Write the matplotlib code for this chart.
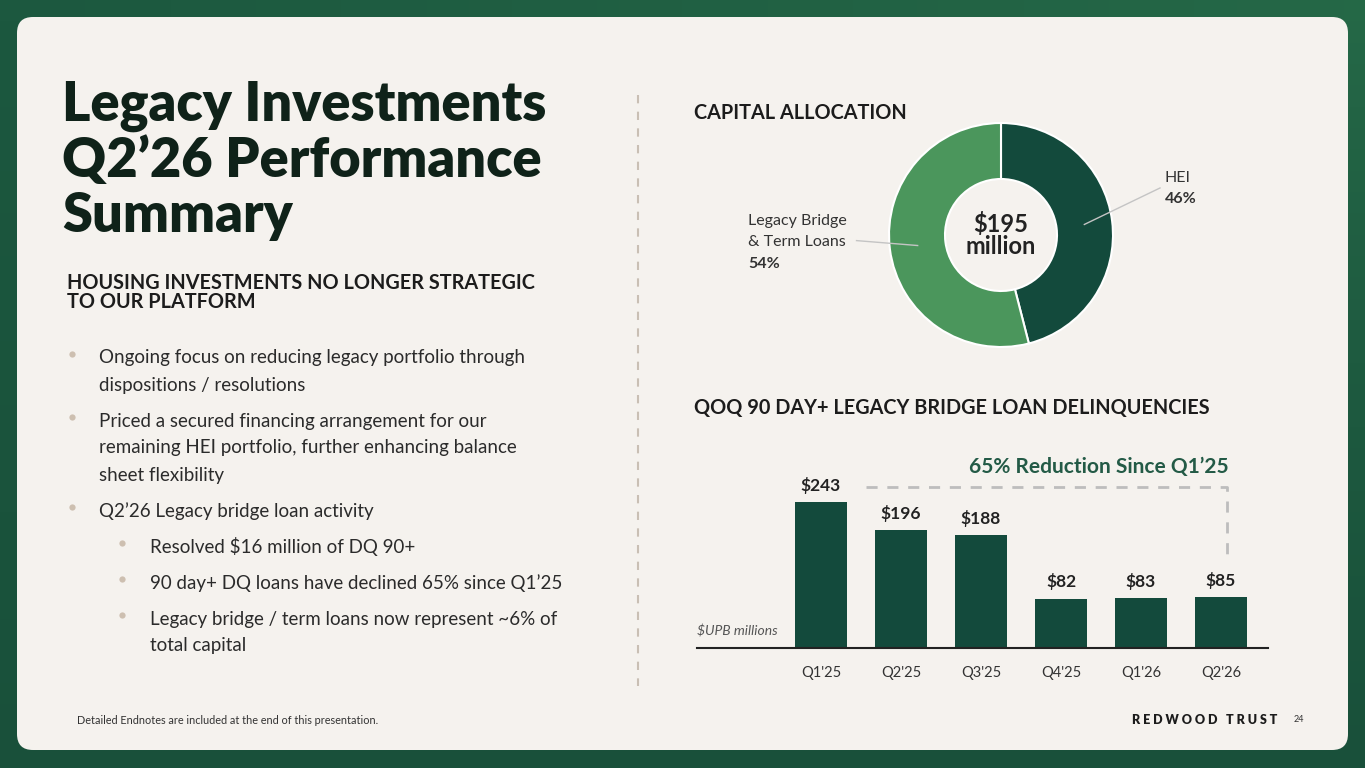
import numpy as np
import matplotlib
matplotlib.use("Agg")
import matplotlib.pyplot as plt
from matplotlib.patches import FancyBboxPatch

# Data
alloc_labels = ["HEI", "Legacy Bridge\n& Term Loans"]
alloc_pct = [46, 54]
alloc_total = "$195\nmillion"

quarters = ["Q1'25", "Q2'25", "Q3'25", "Q4'25", "Q1'26", "Q2'26"]
dq_values = [243, 196, 188, 82, 83, 85]

title_lines = ["Legacy Investments", "Q2\u201926 Performance", "Summary"]
subhead_lines = ["HOUSING INVESTMENTS NO LONGER STRATEGIC", "TO OUR PLATFORM"]
bullets = [
    (0, ["Ongoing focus on reducing legacy portfolio through", "dispositions / resolutions"]),
    (0, ["Priced a secured financing arrangement for our",
         "remaining HEI portfolio, further enhancing balance", "sheet flexibility"]),
    (0, ["Q2\u201926 Legacy bridge loan activity"]),
    (1, ["Resolved $16 million of DQ 90+"]),
    (1, ["90 day+ DQ loans have declined 65% since Q1\u201925"]),
    (1, ["Legacy bridge / term loans now represent ~6% of", "total capital"]),
]

W, H = 1365, 768
DARK = "#134a3c"
LIGHT = "#4b965c"
CARD = "#f5f2ee"
TXT = "#1c1c1c"
BODY = "#2b2b2b"

plt.rcParams["font.family"] = ["Lato", "DejaVu Sans"]

fig = plt.figure(figsize=(W / 100, H / 100), dpi=100)


def px_axes(left, top, right, bottom):
    return fig.add_axes([left / W, 1 - bottom / H, (right - left) / W, (bottom - top) / H])


# background with green gradient and rounded card
bg = fig.add_axes([0, 0, 1, 1])
bg.set_xlim(0, W)
bg.set_ylim(H, 0)
bg.axis("off")
gx = np.linspace(0, 1, 64)
gy = np.linspace(0, 1, 36)
GX, GY = np.meshgrid(gx, gy)
c0 = np.array([0x1c, 0x58, 0x3f]) / 255
c1 = np.array([0x27, 0x6c, 0x49]) / 255
c2 = np.array([0x16, 0x49, 0x36]) / 255
t = (GX * 0.8 * (1 - GY))[..., None]
img = c0 * (1 - t) + c1 * t
img = img * (1 - GY[..., None] * 0.5) + c2 * GY[..., None] * 0.5
bg.imshow(img, extent=[0, W, H, 0], aspect="auto", zorder=0)
card = FancyBboxPatch((17 + 16, 17 + 16), 1331 - 32, 733 - 32,
                      boxstyle="round,pad=16", fc=CARD, ec="none", zorder=1)
bg.add_patch(card)

# title
for i, line in enumerate(title_lines):
    bg.text(62, 106 + 55 * i, line, fontsize=39, fontweight="heavy",
            color="#0f2219", va="center", ha="left", zorder=3)
for i, line in enumerate(subhead_lines):
    bg.text(67, 283 + 19 * i, line, fontsize=14.3, fontweight="bold", color=TXT,
            va="center", ha="left", zorder=3)

# bullets
y = 358
for level, lines in bullets:
    dot_x = 72 if level == 0 else 122
    txt_x = 99 if level == 0 else 150
    bg.plot(dot_x, y - 4, "o", ms=4.5, color="#cdbfb0", mec="none", zorder=3)
    for line in lines:
        bg.text(txt_x, y, line, fontsize=13.5, color=BODY, va="center", ha="left", zorder=3)
        y += 27
    y += 9

# divider
bg.plot([638, 638], [95, 686], ls=(0, (4, 4)), color="#c9bfb4", lw=1.5, zorder=2)

# section headings
bg.text(694, 113, "CAPITAL ALLOCATION", fontsize=14.3, fontweight="bold", color=TXT,
        va="center", ha="left", zorder=3)
bg.text(694, 408, "QOQ 90 DAY+ LEGACY BRIDGE LOAN DELINQUENCIES", fontsize=14.3,
        fontweight="bold", color=TXT, va="center", ha="left", zorder=3)

# footer
bg.text(77, 720, "Detailed Endnotes are included at the end of this presentation.",
        fontsize=7.8, color="#333333", va="center", ha="left", zorder=3)
bg.text(1277, 720, "R E D W O O D   T R U S T", fontsize=9, fontweight="heavy",
        color="#1c1c1c", va="center", ha="right", zorder=3)
bg.text(1294, 720, "24", fontsize=6.5, color="#333333", va="center", ha="left", zorder=3)

# donut
ax_d = px_axes(889, 123, 1113, 347)
ax_d.pie(alloc_pct, colors=[DARK, LIGHT], startangle=90, counterclock=False, radius=1,
         wedgeprops=dict(width=0.5, edgecolor="white", linewidth=1.5))
ax_d.set_xlim(-1, 1)
ax_d.set_ylim(-1, 1)
ax_d.set_aspect("equal")
ax_d.axis("off")
for i, line in enumerate(alloc_total.split("\n")):
    ax_d.text(0, 0.1 - 0.2 * i, line, ha="center", va="center", fontsize=17,
              fontweight="bold", color="#222222")

start = 90.0
mids = []
for p in alloc_pct:
    span = p / 100 * 360
    mids.append(np.deg2rad(start - span / 2))
    start -= span
ends = [(1.42, 0.42), (-1.29, -0.05)]
for m, e in zip(mids, ends):
    x0, y0 = 0.75 * np.cos(m), 0.75 * np.sin(m)
    ax_d.plot([x0, e[0]], [y0, e[1]], color="#c4c4c4", lw=1, clip_on=False)

bg.text(1165, 178, alloc_labels[0], fontsize=11.5, color="#333333", va="center", ha="left", zorder=3)
bg.text(1165, 199, f"{alloc_pct[0]}%", fontsize=11.5, fontweight="bold", color="#333333",
        va="center", ha="left", zorder=3)
for i, line in enumerate(alloc_labels[1].split("\n")):
    bg.text(748, 221 + 21.5 * i, line, fontsize=11.5, color="#333333", va="center",
            ha="left", zorder=3)
bg.text(748, 264, f"{alloc_pct[1]}%", fontsize=11.5, fontweight="bold", color="#333333",
        va="center", ha="left", zorder=3)

# bar chart
ax_b = px_axes(697, 448, 1268, 648)
ax_b.set_facecolor("none")
x = np.arange(len(quarters))
ax_b.bar(x, dq_values, width=0.65, color=DARK, zorder=2)
ax_b.set_xlim(-1.55, 5.5875)
ax_b.set_ylim(0, 200 / 0.6)
for s in ["top", "right", "left"]:
    ax_b.spines[s].set_visible(False)
ax_b.spines["bottom"].set_color("#222222")
ax_b.spines["bottom"].set_linewidth(1.5)
ax_b.set_yticks([])
ax_b.set_xticks(x)
ax_b.set_xticklabels(quarters, fontsize=10.5, color="#333333")
ax_b.tick_params(axis="x", length=0, pad=13)
for xi, v in zip(x, dq_values):
    ax_b.text(xi, v + 14, f"${v}", ha="center", va="bottom", fontsize=12.5,
              fontweight="bold", color="#222222")
ax_b.text(-1.55, 17, "$UPB millions", fontsize=10, style="italic", color="#555555",
          ha="left", va="bottom")

# reduction bracket
y_top = dq_values[0] + 26
ax_b.plot([0.5625, 5.075, 5.075], [y_top, y_top, dq_values[-1] + 62],
          ls=(0, (4, 3.5)), color="#bdbdbd", lw=2, clip_on=False)
ax_b.text(5.1, y_top + 33, "65% Reduction Since Q1\u201925", fontsize=15, fontweight="bold",
          color="#235a46", ha="right", va="center")

fig.savefig("out.png", dpi=100, facecolor=fig.get_facecolor())
